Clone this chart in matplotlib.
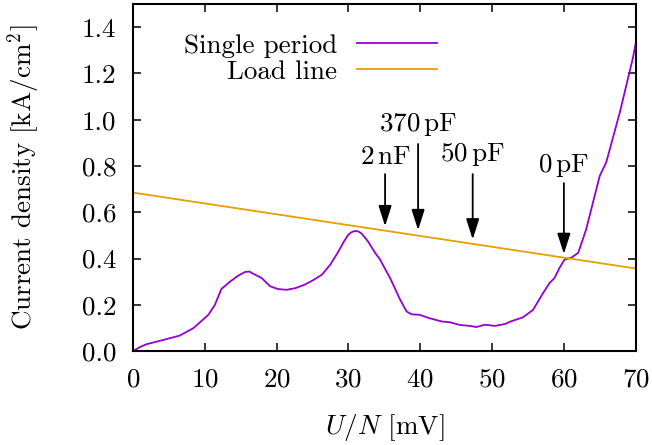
import numpy as np
from matplotlib import pyplot as plt

# Single period curve
u = [0.0, 1.0, 1.9, 4.2, 6.5, 8.4, 10.5, 11.4, 12.3, 13.5, 14.6, 15.6, 16.2,
     16.7, 17.9, 19.1, 20.2, 21.4, 22.6, 23.9, 25.0, 26.3, 27.5, 28.6, 29.3,
     30.0, 30.5, 30.9, 31.3, 31.8, 32.7, 33.7, 34.4, 35.1, 35.8, 37.2, 38.1,
     38.8, 39.9, 41.3, 43.0, 44.1, 45.5, 46.9, 47.8, 49.0, 50.4, 51.8, 52.5,
     54.3, 55.7, 57.1, 58.0, 58.7, 59.4, 60.1, 61.0, 62.0, 63.1, 65.0, 65.9,
     67.8, 69.6, 70.0]
j = [0.0, 0.018, 0.03, 0.048, 0.067, 0.099, 0.157, 0.20, 0.268, 0.30, 0.325,
     0.342, 0.344, 0.335, 0.316, 0.28, 0.268, 0.265, 0.272, 0.287, 0.305,
     0.33, 0.375, 0.43, 0.47, 0.504, 0.515, 0.519, 0.518, 0.509, 0.475, 0.425,
     0.396, 0.355, 0.316, 0.222, 0.171, 0.159, 0.157, 0.142, 0.128, 0.125,
     0.113, 0.109, 0.104, 0.114, 0.109, 0.117, 0.127, 0.146, 0.178, 0.251,
     0.294, 0.316, 0.36, 0.396, 0.403, 0.425, 0.526, 0.758, 0.816, 1.033,
     1.265, 1.33]

# Load line end points
load_u = [0.0, 70.0]
load_j = [0.685, 0.357]

# Capacitance markers: label, x, arrow start, arrow end, label y
cap_labels = ['2$\\,$nF', '370$\\,$pF', '50$\\,$pF', '0$\\,$pF']
cap_x = [35.1, 39.7, 47.3, 60.0]
cap_y0 = [0.765, 0.895, 0.765, 0.726]
cap_y1 = [0.54, 0.523, 0.483, 0.42]
cap_ty = [0.84, 0.98, 0.85, 0.80]

plt.rcParams['font.family'] = 'cmr10'
plt.rcParams['mathtext.fontset'] = 'cm'
plt.rcParams['axes.formatter.use_mathtext'] = True
plt.rcParams['font.size'] = 19.5

fig = plt.figure(figsize=(6.52, 4.45), dpi=100)
ax = fig.add_axes([0.204, 0.211, 0.771, 0.78])

ax.plot(u, j, color='#9400D3', lw=1.3, label='Single period')
ax.plot(load_u, load_j, color='#E69F00', lw=1.3, label='Load line')

for lab, x, y0, y1, ty in zip(cap_labels, cap_x, cap_y0, cap_y1, cap_ty):
    ax.annotate('', xy=(x, y1), xytext=(x, y0),
                arrowprops=dict(arrowstyle='-|>,head_length=1.25,head_width=0.4',
                                color='k', lw=1.3, shrinkA=0, shrinkB=0,
                                mutation_scale=10))
    ax.text(x, ty, lab, ha='center', va='center')

ax.set_xlim(0, 70)
ax.set_ylim(0, 1.5)
ax.set_xticks(np.arange(0, 71, 10))
ax.set_yticks(np.arange(0, 1.41, 0.2))
ax.set_yticklabels(['%.1f' % v for v in np.arange(0, 1.41, 0.2)])
ax.tick_params(direction='in', top=True, right=True, length=6, width=1.1)
ax.tick_params(axis='x', pad=12)
ax.tick_params(axis='y', pad=12)
for s in ax.spines.values():
    s.set_linewidth(1.5)

ax.set_xlabel('$U/N$ [mV]')
ax.set_ylabel('Current density [kA/cm$^2$]')
ax.xaxis.set_label_coords(0.5, -0.176)
ax.yaxis.set_label_coords(-0.181, 0.5)

ax.legend(loc='upper right', bbox_to_anchor=(451 / 652, (445 - 20) / 445),
          bbox_transform=fig.transFigure, frameon=False, borderpad=0,
          markerfirst=False, handlelength=2.96, labelspacing=0.08,
          handletextpad=0.74)

fig.savefig('out.png', dpi=100)
